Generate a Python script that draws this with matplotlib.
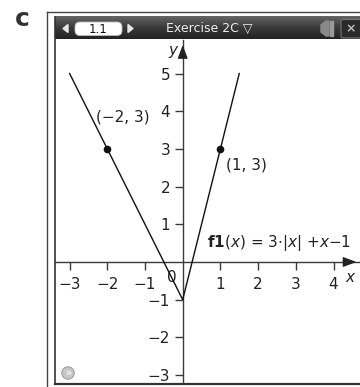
import numpy as np
import matplotlib
matplotlib.use("Agg")
import matplotlib.pyplot as plt
from matplotlib.patches import Rectangle, FancyBboxPatch, Circle, Polygon

plt.rcParams['font.family'] = ['DejaVu Sans']
plt.rcParams['mathtext.fontset'] = 'dejavusans'

# Graph of f1(x) = 3|x| + x - 1 drawn over x in [-3, 1.5]
x_start, x_end = -3.0, 1.5
vertex_x = 0.0
points_x = [-2, 1]
points_y = [3, 3]
point_labels = ["(\u22122, 3)", "(1, 3)"]
x_ticks = [-3, -2, -1, 1, 2, 3, 4]
y_ticks = [-3, -2, -1, 1, 2, 3, 4, 5]


def f1(x):
    return 3 * np.abs(x) + x - 1


W, H = 360, 387
fig = plt.figure(figsize=(W / 100, H / 100), dpi=100)

# ---- window chrome, laid out in pixel coordinates ----
bg = fig.add_axes([0, 0, 1, 1])
bg.set_xlim(0, W)
bg.set_ylim(H, 0)
bg.axis('off')

# outer frame
bg.plot([47, 47], [12, H], color='#444444', lw=1.0)
bg.plot([47, W], [12, 12], color='#444444', lw=1.0)
# inner frame
bg.plot([55, 55], [17, 383], color='#333333', lw=1.2)
bg.plot([55, W], [383.5, 383.5], color='#333333', lw=1.6)

# title bar with a vertical grey gradient
grad = np.linspace(0, 1, 64).reshape(-1, 1)
bg.imshow(grad, extent=(55, W, 39.5, 17), cmap=matplotlib.colors.LinearSegmentedColormap.from_list(
    'bar', ['#656565', '#3a3a3a', '#222222']), aspect='auto', zorder=1)

# page tab: arrows and rounded box with "1.1"
bg.add_patch(Polygon([[63, 28.5], [68, 24.5], [68, 32.5]], closed=True, color='#e6e6e6', zorder=2))
bg.add_patch(Polygon([[133, 28.5], [128, 24.5], [128, 32.5]], closed=True, color='#e6e6e6', zorder=2))
bg.add_patch(FancyBboxPatch((75, 22), 47, 13.5, boxstyle='round,pad=0,rounding_size=5',
                            facecolor='white', edgecolor='#bbbbbb', lw=0.6, zorder=2))
bg.text(98.5, 29.5, "1.1", ha='center', va='center', fontsize=8.5, color='#111111', zorder=3)

bg.text(209, 28.5, "Exercise 2C \u25bd", ha='center', va='center', fontsize=9,
        color='#eeeeee', zorder=3)

# right-hand icons of the title bar
bg.add_patch(Polygon([[321, 25], [326, 21], [329, 21], [329, 36], [326, 36], [321, 32]],
                     closed=True, color='#8a8a8a', zorder=2))
bg.add_patch(Rectangle((330, 21), 3, 15, color='#9a9a9a', zorder=2))
bg.add_patch(FancyBboxPatch((341, 19.5), 22, 18.5, boxstyle='round,pad=0,rounding_size=2',
                            facecolor='#2a2a2a', edgecolor='#777777', lw=0.8, zorder=2))
bg.text(351, 28.5, "\u00d7", ha='center', va='center', fontsize=9, fontweight='bold',
        color='#bbbbbb', zorder=3)

# small round button at bottom left
bg.add_patch(Circle((68, 373), 6.2, facecolor='#c8c8c8', edgecolor='#a0a0a0', lw=0.8, zorder=2))
bg.text(68, 372.8, "\u00bb", ha='center', va='center', fontsize=7, fontweight='bold',
        color='#f8f8f8', zorder=3)

# panel letter
fig.text(22 / W, 1 - 19 / H, "c", ha='center', va='center', fontsize=18,
         fontweight='bold', color='#333333')

# ---- graph area ----
px = 37.7          # pixels per unit
ox, oy = 182.7, 262.0   # origin in pixels
left, right, top, bottom = 55, 360, 40, 383
ax = fig.add_axes([left / W, 1 - bottom / H, (right - left) / W, (bottom - top) / H])
ax.set_xlim((left - ox) / px, (right - ox) / px)
ax.set_ylim((oy - bottom) / px, (oy - top) / px)
ax.patch.set_alpha(0)

for s in ['top', 'right']:
    ax.spines[s].set_visible(False)
ax.spines['left'].set_position(('data', 0))
ax.spines['bottom'].set_position(('data', 0))
for s in ['left', 'bottom']:
    ax.spines[s].set_color('#3a3a3a')
    ax.spines[s].set_linewidth(1.0)

ax.set_xticks(x_ticks)
ax.set_yticks(y_ticks)
ax.set_xticklabels([f"{t}".replace('-', '\u2212') for t in x_ticks])
ax.set_yticklabels([f"{t}".replace('-', '\u2212') for t in y_ticks])
ax.tick_params(axis='both', direction='out', length=6, width=1.0, color='#3a3a3a',
               labelsize=11, labelcolor='#222222')
ax.tick_params(axis='x', pad=5)
ax.tick_params(axis='y', pad=3)

xmin, xmax = ax.get_xlim()
ymin, ymax = ax.get_ylim()
# arrow heads on the axes
ax.annotate('', xy=(xmax - 0.02, 0), xytext=(xmax - 0.4, 0),
            arrowprops=dict(arrowstyle='-|>,head_length=0.8,head_width=0.3', color='#222222', lw=1.0),
            annotation_clip=False)
ax.annotate('', xy=(0, ymax - 0.06), xytext=(0, ymax - 0.5),
            arrowprops=dict(arrowstyle='-|>,head_length=0.8,head_width=0.3', color='#222222', lw=1.0),
            annotation_clip=False)
ax.text(4.44, -0.40, "x", fontsize=11, style='italic', ha='center', va='center', color='#222222')
ax.text(-0.26, 5.62, "y", fontsize=11, style='italic', ha='center', va='center', color='#222222')
ax.text(-0.30, -0.40, "0", fontsize=11, ha='center', va='center', color='#222222')

# the function
xs = np.array([x_start, vertex_x, x_end])
ax.plot(xs, f1(xs), color='#111111', lw=1.0, solid_joinstyle='miter', zorder=3)
ax.plot(points_x, points_y, 'o', color='#111111', ms=4.5, zorder=4)
ax.text(-1.58, 3.85, point_labels[0], fontsize=11, ha='center', va='center', color='#222222')
ax.text(1.69, 2.57, point_labels[1], fontsize=11, ha='center', va='center', color='#222222')

ax.text(2.55, 0.50, r"$\mathbf{f1}(x)$ = 3$\cdot$|$x$| +$x$$-$1", fontsize=11,
        ha='center', va='center', color='#222222')

fig.savefig("out.png", dpi=100)
